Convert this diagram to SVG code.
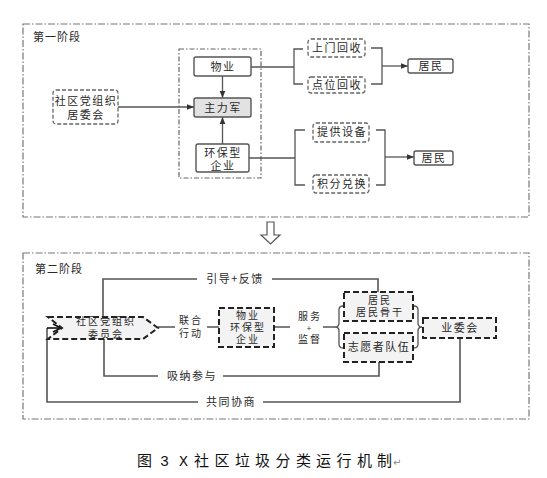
<svg xmlns="http://www.w3.org/2000/svg" width="547" height="478" viewBox="0 0 547 478">
<defs>
<style>
text{font-family:"Noto Sans CJK SC","Noto Sans",sans-serif;fill:#2a2a2a;font-size:11px;letter-spacing:1.5px}
.c{text-anchor:middle}
.s{font-size:10px;letter-spacing:2px}
.panel{fill:none;stroke:#777;stroke-width:1.2;stroke-dasharray:7 2 1.5 2}
.box{fill:#fff;stroke:#555;stroke-width:1.4}
.dbox{fill:#fff;stroke:#666;stroke-width:1.3;stroke-dasharray:4 2}
.tbox{fill:#f3f3f3;stroke:#222;stroke-width:2;stroke-dasharray:6 3}
.ln{fill:none;stroke:#555;stroke-width:1.3}
.ln2{fill:none;stroke:#555;stroke-width:1.6}
</style>
<marker id="ah" viewBox="0 0 10 10" refX="10" refY="5" markerWidth="7" markerHeight="7" orient="auto" markerUnits="userSpaceOnUse">
<path d="M0,1 L10,5 L0,9 Z" fill="#333"/>
</marker>
<marker id="oa" viewBox="0 0 10 10" refX="9" refY="5" markerWidth="10" markerHeight="10" orient="auto" markerUnits="userSpaceOnUse">
<path d="M1,1 L9,5 L1,9" fill="none" stroke="#111" stroke-width="1.8"/>
</marker>
</defs>
<rect width="547" height="478" fill="#fff"/>

<!-- Stage 1 -->
<g id="stage1">
<rect class="panel" x="23" y="24" width="506" height="193"/>
<text x="33" y="41" style="letter-spacing:1px">第一阶段</text>
<rect x="179" y="49" width="82" height="129" fill="none" stroke="#666" stroke-width="1.2" stroke-dasharray="5 2 1.5 2"/>
</g>

<g id="connectors1">
<line class="ln" x1="222.5" y1="76" x2="222.5" y2="98" marker-end="url(#ah)"/>
<line class="ln" x1="222.5" y1="144" x2="222.5" y2="117" marker-end="url(#ah)"/>
<line class="ln" x1="118" y1="107" x2="194" y2="107" marker-end="url(#ah)"/>
<path class="ln" d="M251,67 H294 M303,49 H294 V84 H303 M371,48 H382 V84 H371"/>
<line class="ln" x1="382" y1="66" x2="408" y2="66" marker-end="url(#ah)"/>
<path class="ln" d="M249,158 H295 M305,130 H295 V185 H305 M376,130 H385 V185 H376"/>
<line class="ln" x1="385" y1="157" x2="414" y2="157" marker-end="url(#ah)"/>
</g>

<g id="n-sqdzz1">
<rect class="dbox" x="53" y="90" width="65" height="34" rx="3"/>
<text class="c"><tspan x="86" y="105">社区党组织</tspan><tspan x="86" y="119">居委会</tspan></text>
</g>
<g id="n-wuye">
<rect class="box" x="194" y="57" width="57" height="19" rx="2"/>
<text class="c" x="223" y="71">物业</text>
</g>
<g id="n-zhulijun">
<rect class="box" x="194" y="98" width="57" height="19" rx="2" style="fill:#e2e2e2"/>
<text class="c" x="223" y="112">主力军</text>
</g>
<g id="n-hbqy">
<rect class="box" x="196" y="144" width="53" height="28" rx="2"/>
<text class="c"><tspan x="223" y="157">环保型</tspan><tspan x="223" y="170">企业</tspan></text>
</g>
<g id="n-smhs">
<rect class="dbox" x="308" y="39" width="57" height="18" rx="3"/>
<text class="c" x="337" y="52">上门回收</text>
</g>
<g id="n-dwhs">
<rect class="dbox" x="308" y="77" width="57" height="16" rx="3"/>
<text class="c" x="337" y="89">点位回收</text>
</g>
<g id="n-jumin1">
<rect class="box" x="408" y="59" width="45" height="14" rx="2"/>
<text class="c" x="431" y="70">居民</text>
</g>
<g id="n-tgsb">
<rect class="dbox" x="313" y="123" width="56" height="19" rx="3"/>
<text class="c" x="342" y="136">提供设备</text>
</g>
<g id="n-jfdh">
<rect class="dbox" x="313" y="175" width="56" height="18" rx="3"/>
<text class="c" x="342" y="188">积分兑换</text>
</g>
<g id="n-jumin2">
<rect class="box" x="414" y="151" width="39" height="14" rx="2"/>
<text class="c" x="434" y="162">居民</text>
</g>

<!-- Transition arrow -->
<g id="down-arrow">
<polygon points="267,222 274,222 274,235 280,235 270.5,244 261,235 267,235" fill="#fff" stroke="#555" stroke-width="1.2"/>
</g>

<!-- Stage 2 -->
<g id="stage2">
<rect class="panel" x="23" y="253" width="506" height="166"/>
<text x="35" y="273" style="letter-spacing:1px">第二阶段</text>
</g>

<g id="connectors2">
<path class="ln2" d="M103,317 V279 H197 M272,279 H378 V292"/>
<text class="c" x="235" y="283">引导+反馈</text>
<path class="ln2" d="M104,339 V376 H158 M223,376 H379 V362"/>
<text class="c" x="192" y="380">吸纳参与</text>
<path class="ln2" d="M460,338 V402 H263 M198,402 H47 V328"/>
<line x1="47" y1="328" x2="61" y2="328" stroke="#111" stroke-width="1.6" marker-end="url(#oa)"/>
<text class="c" x="231" y="406">共同协商</text>
<path class="ln2" d="M158,327 H175 M207,327 H219 M274,327 H290 M323,327 H335"/>
<text class="c s"><tspan x="191" y="324">联合</tspan><tspan x="191" y="337">行动</tspan></text>
<text class="c s"><tspan x="310" y="320">服务</tspan><tspan x="309" y="331" style="font-size:8px;letter-spacing:0">+</tspan><tspan x="310" y="343">监督</tspan></text>
<path class="ln" d="M343,306 q-4,0 -4,4 v13 q0,4 -4,4 q4,0 4,4 v13 q0,4 4,4"/>
<path class="ln" d="M414,306 q4,0 4,4 v13 q0,4 4,4 q-4,0 -4,4 v13 q0,4 -4,4"/>
</g>

<g id="n-sqdzz2">
<polygon class="tbox" points="48,317 143,317 158,328 143,339 48,339 62,328"/>
<text class="c s"><tspan x="106" y="325">社区党组织</tspan><tspan x="106" y="338">委员会</tspan></text>
</g>
<g id="n-wyhb">
<rect class="tbox" x="219" y="308" width="55" height="39"/>
<text class="c s"><tspan x="248" y="319">物业</tspan><tspan x="248" y="331">环保型</tspan><tspan x="248" y="343">企业</tspan></text>
</g>
<g id="n-jmgg">
<rect class="tbox" x="344" y="292" width="69" height="29"/>
<text class="c s"><tspan x="380" y="304">居民</tspan><tspan x="380" y="316">居民骨干</tspan></text>
</g>
<g id="n-zyzdw">
<rect class="tbox" x="344" y="333" width="69" height="29"/>
<text class="c" x="379" y="351">志愿者队伍</text>
</g>
<g id="n-yewei">
<rect class="tbox" x="423" y="318" width="73" height="20"/>
<text class="c" x="460" y="332">业委会</text>
</g>

<!-- Caption -->
<g id="caption">
<text y="466" style="font-size:15px;letter-spacing:0;font-family:'Liberation Mono','Noto Sans CJK SC',monospace;fill:#111"><tspan x="137">图</tspan><tspan x="160">3</tspan><tspan x="179">X</tspan><tspan x="194">社</tspan><tspan x="214.5">区</tspan><tspan x="235">垃</tspan><tspan x="255">圾</tspan><tspan x="275.5">分</tspan><tspan x="296">类</tspan><tspan x="316">运</tspan><tspan x="336.5">行</tspan><tspan x="357">机</tspan><tspan x="377">制</tspan><tspan x="393" style="font-size:10px;fill:#888;font-family:'DejaVu Sans',sans-serif">↵</tspan></text>
</g>
</svg>
